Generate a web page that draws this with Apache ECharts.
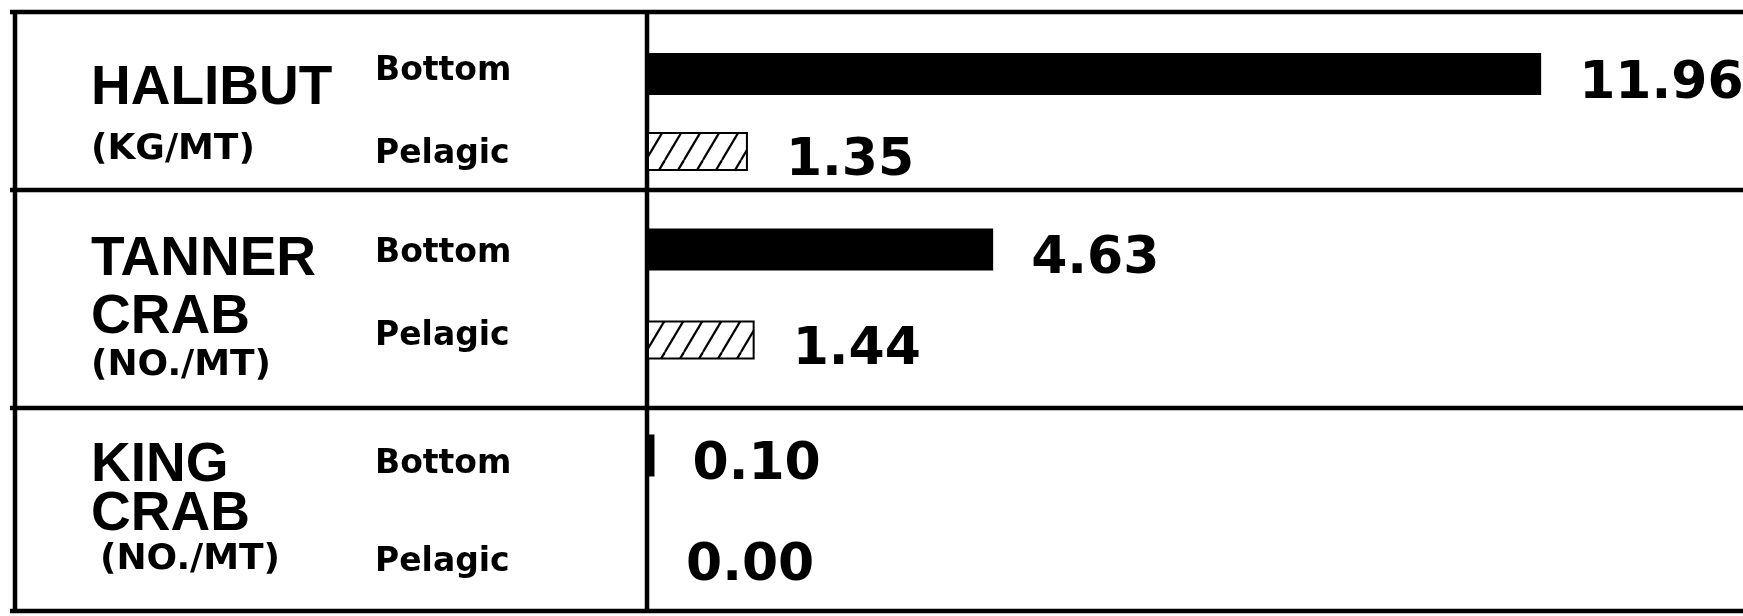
<!DOCTYPE html>
<html>
<head>
<meta charset="utf-8">
<script src="https://cdn.jsdelivr.net/npm/echarts@6/dist/echarts.min.js"></script>
<style>
  html, body { margin: 0; padding: 0; background: #fff; }
  #chart { width: 1743px; height: 616px; }
</style>
</head>
<body>
<div id="chart"></div>
<script>
// data
const species = ['HALIBUT', 'TANNER CRAB', 'KING CRAB'];
const units = ['(KG/MT)', '(NO./MT)', '(NO./MT)'];
const gearTypes = ['Bottom', 'Pelagic'];
const bottomValues = [11.96, 4.63, 0.10];
const pelagicValues = [1.35, 1.44, 0.00];

// table layout (one grid per row, since the hand drawn rows differ in height)
const gridLeft = 647;
const frameTop = 12;
const frameBottom = 611;
const rowLines = [190, 408];
const rowCenter = [112, 294, 505];
const rowSpread = [79, 92, 102];
const gearCenter = [113, 295, 513];
const gearSpread = [83, 83, 98];
const barW = 42;
// line heights of the name block (name lines..., unit) and a top pad to place it
const nameLineH = [[76, 46], [66, 50, 46], [53, 45, 46]];
const namePad = [0, 27, 12];

// hatch pattern for pelagic bars
function hatch() {
  let c = document.createElement('canvas');
  let w = 19, h = 32;
  c.width = w; c.height = h;
  let ctx = c.getContext('2d');
  ctx.fillStyle = '#fff';
  ctx.fillRect(0, 0, w, h);
  ctx.strokeStyle = '#000';
  ctx.lineWidth = 2.2;
  [-w, 0, w].forEach(function (x) {
    ctx.beginPath();
    ctx.moveTo(x, h);
    ctx.lineTo(x + w, 0);
    ctx.stroke();
  });
  return c;
}
const hatchImg = hatch();

function hline(y) {
  return { type: 'line', shape: { x1: 10, y1: y, x2: 1743, y2: y }, style: { stroke: '#000', lineWidth: 4.5 } };
}
function vline(x) {
  return { type: 'line', shape: { x1: x, y1: frameTop - 2, x2: x, y2: frameBottom + 2 }, style: { stroke: '#000', lineWidth: 4.5 } };
}

var myChart = echarts.init(document.getElementById('chart'));

let valueLabel = {
  show: true,
  position: 'right',
  distance: 38,
  offset: [0, 10],
  color: '#000',
  fontFamily: 'DejaVu Sans',
  fontWeight: 'bold',
  fontSize: 52,
  formatter: function (p) { return p.value.toFixed(2); }
};

let grids = [], xAxes = [], yAxes = [], series = [];

// bar grids: 0..2, species label axes 0,2,4 ; gear label grids: 3..5
species.forEach(function (name, i) {
  grids.push({ left: gridLeft, right: 0, top: rowCenter[i] - rowSpread[i], height: rowSpread[i] * 2 });
  xAxes.push({ type: 'value', gridIndex: i, min: 0, max: 14.66, show: false });

  let lh = nameLineH[i];
  let big = { fontFamily: 'Liberation Sans', fontWeight: 'bold', fontSize: 55, color: '#000' };
  let small = { fontFamily: 'DejaVu Sans', fontWeight: 'bold', fontSize: 36, color: '#000' };
  let rich = {
    a: Object.assign({ lineHeight: lh[0] }, big),
    b: Object.assign({ lineHeight: lh[1] }, big),
    u: Object.assign({ lineHeight: lh[lh.length - 1] }, small, i === 2 ? { padding: [0, 0, 0, 9] } : {})
  };
  // species name + unit
  yAxes.push({
    type: 'category',
    gridIndex: i,
    data: [name],
    axisLine: { show: false },
    axisTick: { show: false },
    axisLabel: {
      interval: 0,
      margin: gridLeft - 91,
      align: 'left',
      padding: [namePad[i], 0, 0, 0],
      formatter: function (value) {
        let words = value.split(' ');
        let lines = words.map(function (w, k) { return '{' + (k === 0 ? 'a' : 'b') + '|' + w + '}'; });
        return lines.join('\n') + '\n{u|' + units[i] + '}';
      },
      rich: rich
    }
  });
  let gap = ((rowSpread[i] - barW) / barW * 100).toFixed(0) + '%';
  series.push({
    name: 'Bottom',
    type: 'bar',
    xAxisIndex: i,
    yAxisIndex: i,
    data: [bottomValues[i]],
    barWidth: barW,
    barGap: gap,
    itemStyle: { color: '#000' },
    label: valueLabel
  });
  series.push({
    name: 'Pelagic',
    type: 'bar',
    xAxisIndex: i,
    yAxisIndex: i,
    data: [pelagicValues[i]],
    barWidth: barW - 3,
    barGap: gap,
    itemStyle: { color: { image: hatchImg, repeat: 'repeat' }, borderColor: '#000', borderWidth: 2 },
    label: valueLabel
  });
});

// Bottom / Pelagic labels per row
species.forEach(function (name, i) {
  let g = species.length + i;
  grids.push({ left: gridLeft, right: 0, top: gearCenter[i] - gearSpread[i], height: gearSpread[i] * 2 });
  xAxes.push({ type: 'value', gridIndex: g, min: 0, max: 1, show: false });
  yAxes.push({
    type: 'category',
    gridIndex: g,
    data: gearTypes,
    inverse: true,
    axisLine: { show: false },
    axisTick: { show: false },
    axisLabel: {
      interval: 0,
      margin: gridLeft - 375,
      align: 'left',
      color: '#000',
      fontFamily: 'DejaVu Sans',
      fontWeight: 'bold',
      fontSize: 33
    }
  });
});

option = {
  animation: false,
  backgroundColor: '#fff',
  grid: grids,
  xAxis: xAxes,
  yAxis: yAxes,
  series: series,
  graphic: [
    hline(frameTop), hline(rowLines[0]), hline(rowLines[1]), hline(frameBottom),
    vline(15), vline(gridLeft)
  ]
};

myChart.setOption(option);
</script>
</body>
</html>
